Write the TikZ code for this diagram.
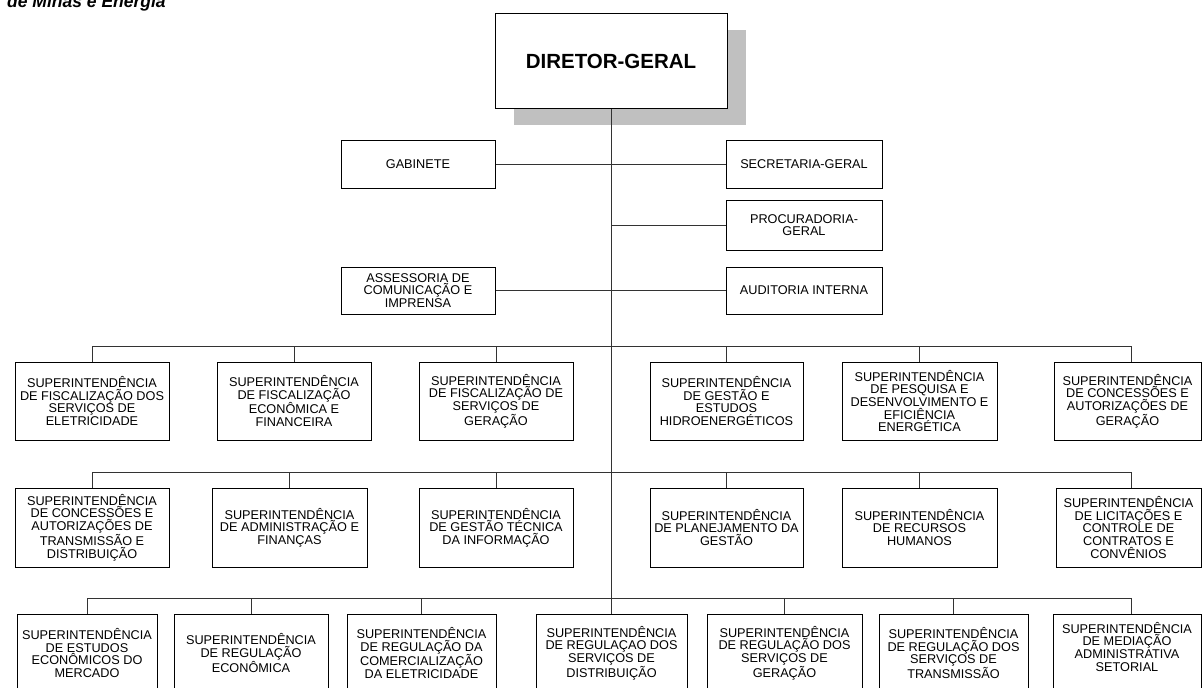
\documentclass[tikz,border=0pt]{standalone}
\usepackage{fontspec}
\setmainfont{Liberation Sans}
\usetikzlibrary{shadows}
\begin{document}
\begin{tikzpicture}[x=1pt,y=-1pt,
  box/.style={draw=black, line width=1pt, fill=white, inner sep=0pt, align=center,
    font=\fontsize{12.7}{12.7}\selectfont},
  link/.style={draw=black!80, line width=0.9pt}]
\useasboundingbox (0,0) rectangle (1202,688);

% title (partially cut at top, as in the reference)
\node[anchor=base west, inner sep=0pt, font=\fontsize{17.5}{17.5}\selectfont\bfseries\itshape] (title) at (7,7.5) {de Minas e Energia};

% director
\node[box, minimum width=232pt, minimum height=95pt, font=\fontsize{20.5}{20.5}\selectfont\bfseries,
  drop shadow={shadow xshift=19pt, shadow yshift=-16pt, fill={rgb,255:red,192;green,192;blue,192}, opacity=1}]
  (dir) at (611,61.3) {DIRETOR-GERAL};

% staff units
\node[box, minimum width=154pt, minimum height=48pt] (gab) at (418,164) {GABINETE};
\node[box, minimum width=156pt, minimum height=48pt] (sec) at (804,164) {SECRETARIA-GERAL};
\node[box, minimum width=156pt, minimum height=50pt] (proc) at (804,225) {PROCURADORIA-\\GERAL};
\node[box, minimum width=154pt, minimum height=47pt] (ass) at (418,290.5) {ASSESSORIA DE\\COMUNICAÇÃO E\\IMPRENSA};
\node[box, minimum width=156pt, minimum height=47pt] (aud) at (804,290.5) {AUDITORIA INTERNA};

% row 1
\node[box, minimum width=154pt, minimum height=78pt] (b11) at (92,401) {SUPERINTENDÊNCIA\\DE FISCALIZAÇÃO DOS\\SERVIÇOS DE\\ELETRICIDADE};
\node[box, minimum width=154pt, minimum height=78pt] (b12) at (294,401) {SUPERINTENDÊNCIA\\DE FISCALIZAÇÃO\\ECONÔMICA E\\FINANCEIRA};
\node[box, minimum width=154pt, minimum height=78pt] (b13) at (496,401) {SUPERINTENDÊNCIA\\DE FISCALIZAÇÃO DE\\SERVIÇOS DE\\GERAÇÃO};
\node[box, minimum width=153pt, minimum height=78pt] (b14) at (726.5,401) {SUPERINTENDÊNCIA\\DE GESTÃO E\\ESTUDOS\\HIDROENERGÉTICOS};
\node[box, minimum width=155pt, minimum height=78pt] (b15) at (919.5,401) {SUPERINTENDÊNCIA\\DE PESQUISA E\\DESENVOLVIMENTO E\\EFICIÊNCIA\\ENERGÉTICA};
\node[box, minimum width=147pt, minimum height=78pt] (b16) at (1127.5,401) {SUPERINTENDÊNCIA\\DE CONCESSÕES E\\AUTORIZAÇÕES DE\\GERAÇÃO};

% row 2
\node[box, minimum width=154pt, minimum height=79pt] (b21) at (92,527.5) {SUPERINTENDÊNCIA\\DE CONCESSÕES E\\AUTORIZAÇÕES DE\\TRANSMISSÃO E\\DISTRIBUIÇÃO};
\node[box, minimum width=155pt, minimum height=79pt] (b22) at (289.5,527.5) {SUPERINTENDÊNCIA\\DE ADMINISTRAÇÃO E\\FINANÇAS};
\node[box, minimum width=154pt, minimum height=79pt] (b23) at (496,527.5) {SUPERINTENDÊNCIA\\DE GESTÃO TÉCNICA\\DA INFORMAÇÃO};
\node[box, minimum width=153pt, minimum height=79pt] (b24) at (726.5,527.5) {SUPERINTENDÊNCIA\\DE PLANEJAMENTO DA\\GESTÃO};
\node[box, minimum width=155pt, minimum height=79pt] (b25) at (919.5,527.5) {SUPERINTENDÊNCIA\\DE RECURSOS\\HUMANOS};
\node[box, minimum width=145pt, minimum height=79pt] (b26) at (1128.5,527.5) {SUPERINTENDÊNCIA\\DE LICITAÇÕES E\\CONTROLE DE\\CONTRATOS E\\CONVÊNIOS};

% row 3 (cut at bottom)
\node[box, minimum width=140pt, minimum height=78pt] (b31) at (87,653) {SUPERINTENDÊNCIA\\DE ESTUDOS\\ECONÔMICOS DO\\MERCADO};
\node[box, minimum width=154pt, minimum height=78pt] (b32) at (251,653) {SUPERINTENDÊNCIA\\DE REGULAÇÃO\\ECONÔMICA};
\node[box, minimum width=149pt, minimum height=78pt] (b33) at (421.5,653) {SUPERINTENDÊNCIA\\DE REGULAÇÃO DA\\COMERCIALIZAÇÃO\\DA ELETRICIDADE};
\node[box, minimum width=151pt, minimum height=78pt] (b34) at (611.5,653) {SUPERINTENDÊNCIA\\DE REGULAÇAO DOS\\SERVIÇOS DE\\DISTRIBUIÇÃO};
\node[box, minimum width=155pt, minimum height=78pt] (b35) at (784.5,653) {SUPERINTENDÊNCIA\\DE REGULAÇÃO DOS\\SERVIÇOS DE\\GERAÇÃO};
\node[box, minimum width=149pt, minimum height=78pt] (b36) at (953.5,653) {SUPERINTENDÊNCIA\\DE REGULAÇÃO DOS\\SERVIÇOS DE\\TRANSMISSÃO};
\node[box, minimum width=148pt, minimum height=78pt] (b37) at (1127,653) {SUPERINTENDÊNCIA\\DE MEDIAÇÃO\\ADMINISTRATIVA\\SETORIAL\\\phantom{X}};

% junction levels
\coordinate (j1) at (611.5,346);
\coordinate (j2) at (611.5,472);
\coordinate (j3) at (611.5,598);

% trunk
\draw[link] (dir.south) -- (dir.south |- j3);

% staff connectors
\draw[link] (gab) -- (sec);
\draw[link] (proc.west) -- (proc.west -| dir.south);
\draw[link] (ass) -- (aud);

% row 1 connectors
\draw[link] (b11.north) -- (b11.north |- j1) -- ([xshift=3.5pt]b16.north |- j1) -- ([xshift=3.5pt]b16.north);
\foreach \n in {b12,b13,b14,b15} \draw[link] (\n.north) -- (\n.north |- j1);

% row 2 connectors
\draw[link] (b21.north) -- (b21.north |- j2) -- ([xshift=2.5pt]b26.north |- j2) -- ([xshift=2.5pt]b26.north);
\foreach \n in {b22,b23,b24,b25} \draw[link] (\n.north) -- (\n.north |- j2);

% row 3 connectors
\draw[link] (b31.north) -- (b31.north |- j3) -- ([xshift=4pt]b37.north |- j3) -- ([xshift=4pt]b37.north);
\foreach \n in {b32,b33,b34,b35,b36} \draw[link] (\n.north) -- (\n.north |- j3);
\end{tikzpicture}
\end{document}
